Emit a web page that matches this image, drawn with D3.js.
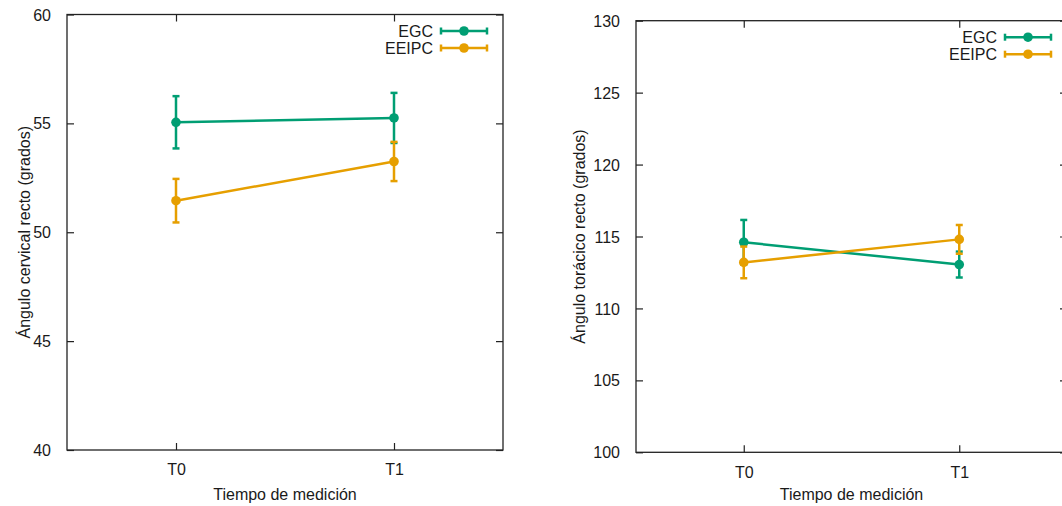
<!DOCTYPE html>
<html>
<head>
<meta charset="utf-8">
<script src="https://cdn.jsdelivr.net/npm/d3@7"></script>
<style>
  body { margin: 0; background: #fff; }
  svg { display: block; font-family: "Liberation Sans", Arial, sans-serif; }
  .tick text { font-size: 16px; fill: #1a1a1a; }
</style>
</head>
<body>
<svg id="svg" width="1062" height="506"></svg>
<script>
const svg = d3.select("#svg");

// data
const times = ["T0", "T1"];
const seriesNames = ["EGC", "EEIPC"];
const colors = ["#009e73", "#e69f00"];

const cervicalEGC = [55.05, 55.25];
const cervicalEGCErr = [1.2, 1.15];
const cervicalEEIPC = [51.45, 53.25];
const cervicalEEIPCErr = [1.0, 0.9];

const toracicoEGC = [114.6, 113.05];
const toracicoEGCErr = [1.55, 0.9];
const toracicoEEIPC = [113.2, 114.8];
const toracicoEEIPCErr = [1.1, 1.0];

const cervicalTicks = [40, 45, 50, 55, 60];
const toracicoTicks = [100, 105, 110, 115, 120, 125, 130];

const panels = [
  {
    box: { left: 67, right: 503, top: 14.5, bottom: 450 },
    domain: [40, 60], ticks: cervicalTicks,
    ylabel: "Ángulo cervical recto (grados)", ylabelX: 24,
    series: [
      { values: cervicalEGC, errs: cervicalEGCErr },
      { values: cervicalEEIPC, errs: cervicalEEIPCErr }
    ]
  },
  {
    box: { left: 636, right: 1067, top: 20.7, bottom: 452.3 },
    domain: [100, 130], ticks: toracicoTicks,
    ylabel: "Ángulo torácico recto (grados)", ylabelX: 579,
    series: [
      { values: toracicoEGC, errs: toracicoEGCErr },
      { values: toracicoEEIPC, errs: toracicoEEIPCErr }
    ]
  }
];

const tickLen = 7;
const capHalf = 3.5;
const lineW = 2.5;
const pointR = 4.8;
const fontSize = 16;

panels.forEach(p => {
  const b = p.box;
  const x = d3.scaleLinear().domain([-0.5, 1.5]).range([b.left, b.right]);
  const y = d3.scaleLinear().domain(p.domain).range([b.bottom, b.top]);
  const g = svg.append("g");

  // axes, ticks pointing inward, mirrored like gnuplot
  const yAxis = g.append("g")
    .attr("transform", `translate(${b.left},0)`)
    .call(d3.axisLeft(y).tickValues(p.ticks).tickSize(-tickLen).tickPadding(tickLen + 9));
  const yAxisR = g.append("g")
    .attr("transform", `translate(${b.right},0)`)
    .call(d3.axisRight(y).tickValues(p.ticks).tickSize(-tickLen).tickFormat(""));
  const xAxis = g.append("g")
    .attr("transform", `translate(0,${b.bottom})`)
    .call(d3.axisBottom(x).tickValues([0, 1]).tickSize(-tickLen)
      .tickPadding(tickLen + 7).tickFormat(i => times[i]));
  const xAxisT = g.append("g")
    .attr("transform", `translate(0,${b.top})`)
    .call(d3.axisTop(x).tickValues([0, 1]).tickSize(-tickLen).tickFormat(""));
  [yAxis, yAxisR, xAxis, xAxisT].forEach(a => {
    a.select(".domain").remove();
    a.selectAll(".tick line").attr("stroke", "#222").attr("stroke-width", 1.2);
  });
  yAxis.selectAll(".tick text").attr("dy", "0.35em");

  g.append("rect")
    .attr("x", b.left).attr("y", b.top)
    .attr("width", b.right - b.left).attr("height", b.bottom - b.top)
    .attr("fill", "none").attr("stroke", "#222").attr("stroke-width", 1.3);

  // axis titles
  g.append("text")
    .attr("x", (b.left + b.right) / 2).attr("y", 500)
    .attr("text-anchor", "middle").attr("font-size", fontSize).attr("fill", "#1a1a1a")
    .text("Tiempo de medición");
  g.append("text")
    .attr("transform", `translate(${p.ylabelX},${(b.top + b.bottom) / 2}) rotate(-90)`)
    .attr("text-anchor", "middle").attr("dy", "0.35em")
    .attr("font-size", fontSize).attr("fill", "#1a1a1a")
    .text(p.ylabel);

  // series
  p.series.forEach((s, si) => {
    const c = colors[si];
    const pts = s.values.map((v, i) => ({ i, v, e: s.errs[i] }));
    const sg = g.append("g");
    sg.append("path")
      .datum(pts)
      .attr("fill", "none").attr("stroke", c).attr("stroke-width", lineW)
      .attr("d", d3.line().x(d => x(d.i)).y(d => y(d.v)));
    const eb = sg.selectAll(".eb").data(pts).join("g")
      .attr("stroke", c).attr("stroke-width", lineW);
    eb.append("line")
      .attr("x1", d => x(d.i)).attr("x2", d => x(d.i))
      .attr("y1", d => y(d.v - d.e)).attr("y2", d => y(d.v + d.e));
    eb.append("line")
      .attr("x1", d => x(d.i) - capHalf).attr("x2", d => x(d.i) + capHalf)
      .attr("y1", d => y(d.v + d.e)).attr("y2", d => y(d.v + d.e));
    eb.append("line")
      .attr("x1", d => x(d.i) - capHalf).attr("x2", d => x(d.i) + capHalf)
      .attr("y1", d => y(d.v - d.e)).attr("y2", d => y(d.v - d.e));
    sg.selectAll("circle").data(pts).join("circle")
      .attr("cx", d => x(d.i)).attr("cy", d => y(d.v))
      .attr("r", pointR).attr("fill", c);

    // legend entry
    const ly = b.top + 16.5 + si * 17;
    const lg = g.append("g");
    lg.append("text")
      .attr("x", b.right - 70).attr("y", ly).attr("dy", "0.35em")
      .attr("text-anchor", "end").attr("font-size", fontSize).attr("fill", "#1a1a1a")
      .text(seriesNames[si]);
    const x0 = b.right - 62, x1 = b.right - 16;
    lg.append("line").attr("x1", x0).attr("x2", x1).attr("y1", ly).attr("y2", ly)
      .attr("stroke", c).attr("stroke-width", lineW);
    [x0, x1].forEach(xx => lg.append("line")
      .attr("x1", xx).attr("x2", xx).attr("y1", ly - capHalf).attr("y2", ly + capHalf)
      .attr("stroke", c).attr("stroke-width", lineW));
    lg.append("circle").attr("cx", b.right - 39).attr("cy", ly).attr("r", pointR).attr("fill", c);
  });
});
</script>
</body>
</html>
